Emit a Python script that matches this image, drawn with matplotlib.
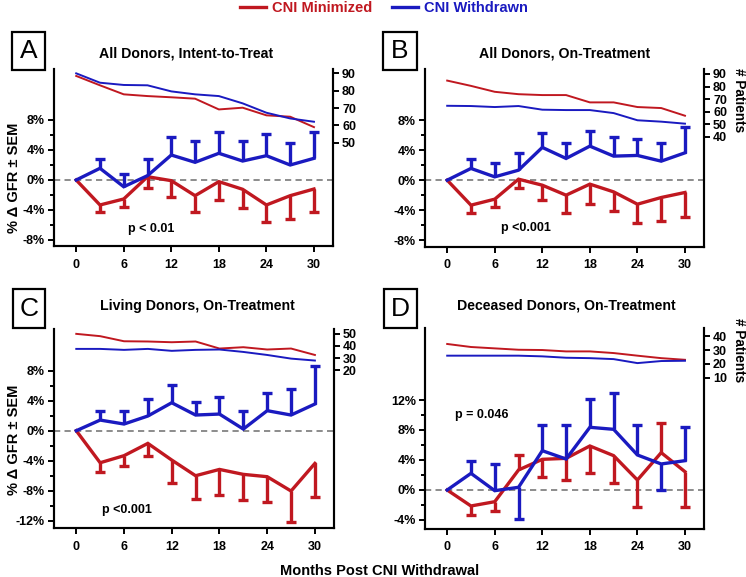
import matplotlib
matplotlib.use("Agg")
import matplotlib.pyplot as plt
from matplotlib.lines import Line2D
from matplotlib.patches import Rectangle
import numpy as np

plt.rcParams['font.family'] = ['Liberation Sans', 'DejaVu Sans']
plt.rcParams['font.weight'] = 'bold'

RED = '#C01820'
BLUE = '#1A1AC0'

months = [0, 3, 6, 9, 12, 15, 18, 21, 24, 27, 30]
x_ticks = [0, 6, 12, 18, 24, 30]

# ---------- Panel A: All Donors, Intent-to-Treat ----------
a_title = "All Donors, Intent-to-Treat"
a_min = [0, -3.33, -2.53, 0.44, -0.09, -2.09, -0.22, -1.24, -3.33, -2.09, -1.2]
a_min_err = [None, -4.31, -3.56, -1.02, -2.22, -4.31, -2.67, -3.69, -5.64, -5.2, -4.22]
a_wd = [0, 1.56, -0.9, 0.58, 3.33, 2.36, 3.56, 2.53, 3.24, 2.0, 2.89]
a_wd_err = [None, 2.76, 0.8, 2.76, 5.69, 5.24, 6.36, 5.24, 6.13, 4.98, 6.44]
a_n_min = [88.5, 83.1, 77.9, 76.9, 76.2, 75.4, 69.2, 70.2, 65.8, 65.0, 59.0]
a_n_wd = [90, 84.6, 83.3, 83.1, 79.6, 77.9, 76.9, 72.7, 67.3, 64.0, 62.1]
a_yticks = [-8, -4, 0, 4, 8]
a_ylabels = ['-8%', '-4%', '0%', '4%', '8%']
a_minor = [-6, -2, 2, 6]
a_nticks = [50, 60, 70, 80, 90]
a_p = "p < 0.01"

# ---------- Panel B: All Donors, On-Treatment ----------
b_title = "All Donors, On-Treatment"
b_min = [0, -3.33, -2.53, 0.13, -0.67, -2.0, -0.53, -1.56, -3.2, -2.31, -1.64]
b_min_err = [None, -4.31, -3.56, -1.11, -2.67, -4.31, -3.11, -4.09, -5.64, -5.42, -4.89]
b_wd = [0, 1.56, 0.44, 1.33, 4.36, 2.89, 4.53, 3.2, 3.29, 2.53, 3.64]
b_wd_err = [None, 2.76, 2.22, 3.56, 6.22, 4.98, 6.58, 5.69, 5.42, 4.98, 7.02]
b_n_min = [84.7, 80.5, 75.8, 73.9, 73.2, 73.2, 67.4, 67.4, 63.7, 62.9, 56.8]
b_n_wd = [64.7, 64.5, 63.7, 64.5, 61.6, 61.3, 61.3, 58.9, 53.2, 52.1, 50.5]
b_yticks = [-8, -4, 0, 4, 8]
b_ylabels = ['-8%', '-4%', '0%', '4%', '8%']
b_minor = [-6, -2, 2, 6]
b_nticks = [40, 50, 60, 70, 80, 90]
b_p = "p <0.001"

# ---------- Panel C: Living Donors, On-Treatment ----------
c_title = "Living Donors, On-Treatment"
c_min = [0, -4.27, -3.33, -1.69, -3.91, -6.0, -5.16, -5.82, -6.13, -8.04, -4.36]
c_min_err = [None, -5.47, -4.71, -3.38, -6.93, -9.16, -8.58, -9.24, -9.56, -12.13, -8.8]
c_wd = [0, 1.42, 0.89, 1.96, 3.73, 2.09, 2.22, 0.22, 2.67, 2.09, 3.56]
c_wd_err = [None, 2.67, 2.67, 4.18, 6.09, 3.87, 4.44, 2.67, 5.07, 5.51, 8.62]
c_n_min = [50, 48.1, 43.9, 43.7, 43.1, 43.7, 37.9, 39.0, 37.1, 37.9, 32.6]
c_n_wd = [37.6, 37.6, 36.8, 37.6, 36.0, 36.8, 37.1, 35.1, 32.6, 29.6, 28.0]
c_yticks = [-12, -8, -4, 0, 4, 8]
c_ylabels = ['-12%', '-8%', '-4%', '0%', '4%', '8%']
c_minor = [-10, -6, -2, 2, 6]
c_nticks = [20, 30, 40, 50]
c_p = "p <0.001"

# ---------- Panel D: Deceased Donors, On-Treatment ----------
d_title = "Deceased Donors, On-Treatment"
d_min = [0, -2.13, -1.56, 2.67, 4.09, 4.22, 5.87, 4.58, 1.33, 4.98, 2.44]
d_min_err = [None, -3.33, -2.76, 4.67, 1.69, 1.33, 2.31, 0.98, -2.31, 8.98, -2.31]
d_wd = [0, 2.22, -0.09, 0.36, 5.24, 4.13, 8.36, 8.09, 4.67, 3.47, 3.91]
d_wd_err = [None, 3.91, 3.42, -3.91, 8.67, 8.67, 12.2, 12.98, 8.67, 0.0, 8.44]
d_n_min = [34.4, 32.2, 31.2, 30.2, 30.0, 29.0, 29.0, 27.8, 25.9, 24.1, 22.9]
d_n_wd = [25.9, 25.9, 25.9, 25.9, 25.4, 24.4, 24.1, 23.4, 20.5, 22.0, 22.2]
d_yticks = [-4, 0, 4, 8, 12]
d_ylabels = ['-4%', '0%', '4%', '8%', '12%']
d_minor = [-2, 2, 6, 10]
d_nticks = [10, 20, 30, 40]
d_p = "p = 0.046"

legend_labels = ["CNI Minimized", "CNI Withdrawn"]

W, H = 746, 577
fig = plt.figure(figsize=(W / 100, H / 100), dpi=100)


def rect_px(left, top, right, bottom):
    return [left / W, 1 - bottom / H, (right - left) / W, (bottom - top) / H]


def panel(box, ylim, nlim, title, mn, mn_err, wd, wd_err, n_mn, n_wd,
          yticks, ylabels, minor, nticks, ptxt, ppos, letter, lbox, title_xy):
    ax = fig.add_axes(rect_px(*box))
    ax.set_xlim(-2.8, 32.4)
    ax.set_ylim(*ylim)
    ax.axhline(0, color='#8c8c8c', lw=1.4, ls=(0, (3.2, 2.2)), zorder=1)
    for vals, errs, col in ((mn, mn_err, RED), (wd, wd_err, BLUE)):
        xs = [m for m, e in zip(months, errs) if e is not None]
        v0 = [v for v, e in zip(vals, errs) if e is not None]
        e1 = [e for e in errs if e is not None]
        ax.vlines(xs, v0, e1, color=col, lw=2.4, zorder=3)
        ax.plot(xs, e1, ls='none', marker='_', ms=7, mew=2.4, color=col, zorder=3)
        ax.plot(months, vals, color=col, lw=2.4, zorder=4, solid_joinstyle='miter')
    ax.set_xticks(x_ticks)
    ax.set_xticklabels([str(t) for t in x_ticks])
    ax.set_yticks(yticks)
    ax.set_yticklabels(ylabels)
    ax.set_yticks(minor, minor=True)
    ax.tick_params(axis='both', which='major', direction='out', length=4, width=1.4,
                   labelsize=9)
    ax.tick_params(axis='y', which='minor', direction='out', length=3, width=1.4)
    ax.tick_params(axis='x', pad=5)
    ax.tick_params(axis='y', pad=2.5)
    for s in ('left', 'bottom', 'right'):
        ax.spines[s].set_linewidth(1.5)
    ax.spines['top'].set_visible(False)
    ax.text(ppos[0], ppos[1], ptxt, ha='center', va='center', fontsize=9,
            fontweight='bold')

    ax2 = ax.twinx()
    ax2.set_ylim(*nlim)
    ax2.plot(months, n_mn, color=RED, lw=1.4, zorder=2)
    ax2.plot(months, n_wd, color=BLUE, lw=1.4, zorder=2)
    ax2.set_yticks(nticks)
    ax2.set_yticklabels([str(t) for t in nticks])
    ax2.tick_params(axis='y', direction='out', length=4, width=1.4, labelsize=9, pad=2.5)
    for s in ('left', 'bottom', 'right'):
        ax2.spines[s].set_linewidth(1.5)
    ax2.spines['top'].set_visible(False)

    fig.text(title_xy[0] / W, 1 - title_xy[1] / H, title, ha='center', va='center',
             fontsize=10.2, fontweight='bold')
    l, t, r, b = lbox
    fig.add_artist(Rectangle((l / W, 1 - b / H), (r - l) / W, (b - t) / H,
                             transform=fig.transFigure, fill=False, lw=1.6,
                             edgecolor='black'))
    fig.text((l + r) / 2 / W, 1 - (t + b) / 2 / H, letter, ha='center', va='center',
             fontsize=19, fontweight='normal')
    return ax, ax2


panel((54, 69, 333, 246), (-8.8, 14.8), (-9.5, 92.5), a_title, a_min, a_min_err,
      a_wd, a_wd_err, a_n_min, a_n_wd, a_yticks, a_ylabels, a_minor, a_nticks,
      a_p, (9.5, -6.5), 'A', (12, 32, 45, 70), (186, 53))
panel((425, 69, 704, 247), (-8.9, 14.8), (-47.4, 93.9), b_title, b_min, b_min_err,
      b_wd, b_wd_err, b_n_min, b_n_wd, b_yticks, b_ylabels, b_minor, b_nticks,
      b_p, (9.9, -6.4), 'B', (383, 32, 417, 70), (565, 53))
panel((54, 329, 334, 528), (-12.97, 13.56), (-110, 54), c_title, c_min, c_min_err,
      c_wd, c_wd_err, c_n_min, c_n_wd, c_yticks, c_ylabels, c_minor, c_nticks,
      c_p, (6.4, -10.6), 'C', (13, 289, 45, 328), (197, 306))
panel((425, 328, 704, 529), (-5.2, 21.6), (-100, 46), d_title, d_min, d_min_err,
      d_wd, d_wd_err, d_n_min, d_n_wd, d_yticks, d_ylabels, d_minor, d_nticks,
      d_p, (4.4, 10.0), 'D', (384, 289, 417, 328), (566, 305))

# axis labels
fig.text(14 / W, 1 - 178 / H, "% Δ GFR ± SEM", rotation=90, ha='center', va='center',
         fontsize=10.5, fontweight='bold')
fig.text(14 / W, 1 - 440 / H, "% Δ GFR ± SEM", rotation=90, ha='center', va='center',
         fontsize=10.5, fontweight='bold')
fig.text(739 / W, 1 - 100 / H, "# Patients", rotation=-90, ha='center', va='center',
         fontsize=9.8, fontweight='bold')
fig.text(739 / W, 1 - 350 / H, "# Patients", rotation=-90, ha='center', va='center',
         fontsize=9.8, fontweight='bold')
fig.text(380 / W, 1 - 571 / H, "Months Post CNI Withdrawal", ha='center', va='center',
         fontsize=10.5, fontweight='bold')

handles = [Line2D([], [], color=RED, lw=2.4), Line2D([], [], color=BLUE, lw=2.4)]
leg = fig.legend(handles, legend_labels, loc='center', bbox_to_anchor=(384 / W, 1 - 8 / H),
                 ncol=2, frameon=False, handlelength=1.8, handletextpad=0.45,
                 columnspacing=1.3, prop={'size': 10.5, 'weight': 'bold'},
                 labelcolor=[RED, BLUE], borderpad=0, borderaxespad=0)

fig.savefig("out.png", dpi=100)
